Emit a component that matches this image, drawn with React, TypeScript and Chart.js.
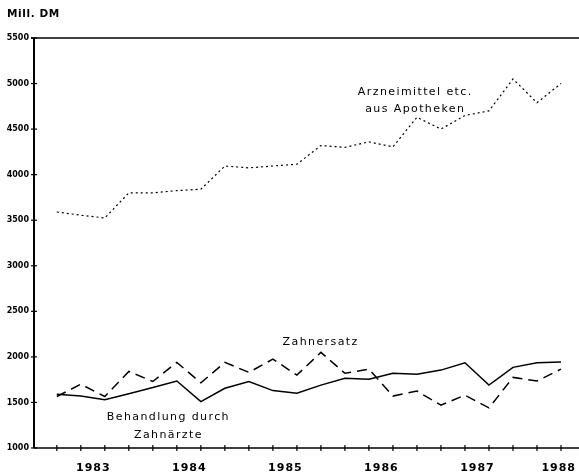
import React, { useEffect, useRef } from "react";
import { Chart, registerables } from "chart.js";

Chart.register(...registerables);

const quarters = [
  "1982 Q3", "1982 Q4",
  "1983 Q1", "1983 Q2", "1983 Q3", "1983 Q4",
  "1984 Q1", "1984 Q2", "1984 Q3", "1984 Q4",
  "1985 Q1", "1985 Q2", "1985 Q3", "1985 Q4",
  "1986 Q1", "1986 Q2", "1986 Q3", "1986 Q4",
  "1987 Q1", "1987 Q2", "1987 Q3", "1987 Q4",
];

const arzneimittel = [3590, 3555, 3525, 3800, 3800, 3825, 3840, 4095, 4075, 4095, 4115, 4320, 4300, 4360, 4305, 4630, 4500, 4650, 4700, 5050, 4790, 5000];
const behandlung = [1590, 1570, 1530, 1595, 1665, 1735, 1510, 1655, 1730, 1630, 1600, 1690, 1765, 1755, 1820, 1810, 1855, 1935, 1690, 1885, 1935, 1945];
const zahnersatz = [1565, 1700, 1565, 1840, 1730, 1940, 1715, 1940, 1830, 1975, 1800, 2050, 1820, 1865, 1570, 1625, 1470, 1580, 1440, 1775, 1735, 1865];

const yMin = 1000;
const yMax = 5500;
const yStep = 500;
const yTitle = "Mill. DM";

const annotations = [
  { text: "Arzneimittel etc.", x: 14.9, y: 4905 },
  { text: "aus Apotheken", x: 14.9, y: 4720 },
  { text: "Zahnersatz", x: 10.96, y: 2165 },
  { text: "Behandlung durch", x: 4.62, y: 1340 },
  { text: "Zahnärzte", x: 4.62, y: 1145 },
];

const toPoints = (arr: number[]) => arr.map((v, i) => ({ x: i, y: v }));

const axesPlugin = {
  id: "customAxes",
  afterDraw(chart: any) {
    const { ctx, chartArea } = chart;
    const xs = chart.scales.x;
    const ys = chart.scales.y;
    const left = chartArea.left;
    const right = chartArea.right;
    const top = chartArea.top;
    const bottom = chartArea.bottom;
    ctx.save();
    ctx.strokeStyle = "#000";
    ctx.fillStyle = "#000";
    ctx.lineCap = "butt";
    // top border
    ctx.lineWidth = 1.6;
    ctx.beginPath();
    ctx.moveTo(left - 3, top);
    ctx.lineTo(right, top);
    ctx.stroke();
    // y axis
    ctx.lineWidth = 2;
    ctx.beginPath();
    ctx.moveTo(left, top);
    ctx.lineTo(left, bottom);
    ctx.stroke();
    // x axis
    ctx.lineWidth = 1.6;
    ctx.beginPath();
    ctx.moveTo(left, bottom);
    ctx.lineTo(right, bottom);
    ctx.stroke();
    // y ticks + labels
    ctx.font = "bold 8px 'DejaVu Sans'";
    ctx.textAlign = "right";
    ctx.textBaseline = "middle";
    (ctx as any).letterSpacing = "0px";
    for (let v = yMin; v <= yMax; v += yStep) {
      const py = ys.getPixelForValue(v);
      ctx.lineWidth = 1.2;
      ctx.beginPath();
      ctx.moveTo(left - 3, py);
      ctx.lineTo(left + 3, py);
      ctx.stroke();
      ctx.fillText(String(v), left - 5, py);
    }
    // x ticks
    ctx.lineWidth = 1.2;
    quarters.forEach((_, i) => {
      const px = xs.getPixelForValue(i);
      ctx.beginPath();
      ctx.moveTo(px, bottom - 3);
      ctx.lineTo(px, bottom + 3);
      ctx.stroke();
    });
    // year labels
    ctx.font = "bold 11px 'DejaVu Sans'";
    ctx.textAlign = "center";
    (ctx as any).letterSpacing = "1px";
    const labelY = bottom + 20;
    quarters.forEach((q, i) => {
      if (q.endsWith("Q1") && i > 0) {
        const yr = q.slice(0, 4);
        ctx.fillText(yr, xs.getPixelForValue(i - 0.5) + 0.5, labelY);
      }
    });
    const lastYear = String(parseInt(quarters[quarters.length - 1].slice(0, 4), 10) + 1);
    let lx = xs.getPixelForValue(quarters.length - 0.5);
    const w = ctx.measureText(lastYear).width;
    if (lx + w / 2 > right - 3) lx = right - 3 - w / 2;
    ctx.fillText(lastYear, lx, labelY);
    // title
    ctx.textAlign = "left";
    ctx.font = "bold 10.5px 'DejaVu Sans'";
    (ctx as any).letterSpacing = "0.6px";
    ctx.fillText(yTitle, 7, 14);
    // annotations
    ctx.font = "11px 'DejaVu Sans'";
    (ctx as any).letterSpacing = "1.4px";
    ctx.textAlign = "center";
    annotations.forEach((a) => {
      ctx.fillText(a.text, xs.getPixelForValue(a.x) + 0.7, ys.getPixelForValue(a.y));
    });
    ctx.restore();
  },
};

export default function App() {
  const ref = useRef<HTMLCanvasElement>(null);
  useEffect(() => {
    if (!ref.current) return;
    const chart = new Chart(ref.current, {
      type: "line",
      data: {
        datasets: [
          {
            label: "Arzneimittel etc. aus Apotheken",
            data: toPoints(arzneimittel),
            borderColor: "#000",
            borderWidth: 1.2,
            borderDash: [2, 3],
            pointRadius: 0,
            tension: 0,
            fill: false,
          },
          {
            label: "Behandlung durch Zahnärzte",
            data: toPoints(behandlung),
            borderColor: "#000",
            borderWidth: 1.5,
            pointRadius: 0,
            tension: 0,
            fill: false,
          },
          {
            label: "Zahnersatz",
            data: toPoints(zahnersatz),
            borderColor: "#000",
            borderWidth: 1.5,
            borderDash: [10, 6],
            pointRadius: 0,
            tension: 0,
            fill: false,
          },
        ],
      },
      options: {
        responsive: false,
        animation: false,
        devicePixelRatio: 1,
        layout: { padding: { top: 38, bottom: 26, left: 0, right: 0 } },
        plugins: { legend: { display: false }, tooltip: { enabled: false } },
        scales: {
          x: {
            type: "linear",
            display: false,
            min: -0.95,
            max: 21.75,
          },
          y: {
            type: "linear",
            min: yMin,
            max: yMax,
            grid: { display: false },
            border: { display: false },
            afterFit: (s: any) => {
              s.width = 34;
            },
            ticks: { display: false, stepSize: yStep },
          },
        },
      },
      plugins: [axesPlugin],
    });
    return () => chart.destroy();
  }, []);
  return (
    <div style={{ position: "absolute", left: 0, top: 0, width: 579, height: 474, background: "#fff" }}>
      <canvas ref={ref} width={579} height={474} />
    </div>
  );
}
